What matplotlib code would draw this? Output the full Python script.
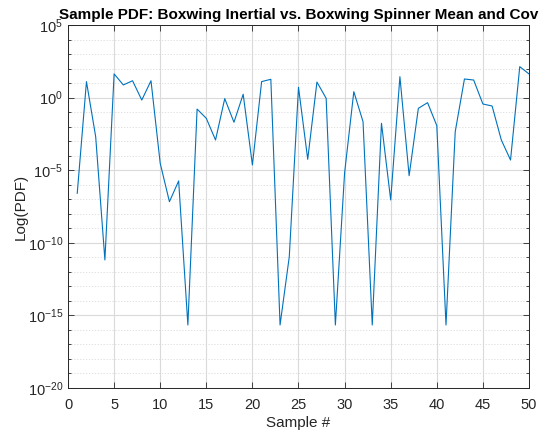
import numpy as np
import matplotlib
matplotlib.use("Agg")
import matplotlib.pyplot as plt
from matplotlib.ticker import FixedLocator, NullFormatter

plt.rcParams['font.family'] = ['Liberation Sans', 'DejaVu Sans']

samples = list(range(1, 51))
log_pdf = [-6.59, 1.10, -2.69, -11.18, 1.63, 0.87, 1.16, -0.17, 1.16, -4.53,
           -7.17, -5.74, -15.66, -0.79, -1.43, -2.92, -0.07, -1.70, 0.23, -4.64,
           1.10, 1.26, -15.66, -10.96, 0.71, -4.25, 1.07, -0.05, -15.66, -5.19,
           0.41, -1.66, -15.66, -1.77, -7.05, 1.44, -5.38, -0.74, -0.35, -1.93,
           -15.66, -2.35, 1.28, 1.21, -0.44, -0.58, -2.92, -4.30, 2.13, 1.63]
pdf = [10.0 ** v for v in log_pdf]

title = "Sample PDF: Boxwing Inertial vs. Boxwing Spinner Mean and Cov"
xlabel = "Sample #"
ylabel = "Log(PDF)"
xticks = [0, 5, 10, 15, 20, 25, 30, 35, 40, 45, 50]
yticks = [1e-20, 1e-15, 1e-10, 1e-5, 1e0, 1e5]

fig = plt.figure(figsize=(5.39, 4.36), dpi=100)
ax = fig.add_axes([0.1262, 0.1101, 0.8552, 0.8326])
ax.plot(samples, pdf, color='#0072BD', lw=0.8)
ax.set_yscale('log')
ax.set_xlim(0, 50)
ax.set_ylim(1e-20, 1e5)
ax.set_xticks(xticks)
ax.yaxis.set_major_locator(FixedLocator(yticks))
ax.yaxis.set_minor_locator(FixedLocator([10.0 ** k for k in range(-20, 6)]))
ax.yaxis.set_minor_formatter(NullFormatter())
ax.set_yticklabels([r'$\mathregular{10^{%d}}$' % int(np.log10(t)) for t in yticks])

ax.grid(True, which='major', color='#DADADA', lw=0.8, ls='-')
ax.grid(True, which='minor', axis='y', color='#DADADA', lw=0.6, ls=(0, (1.5, 2)))
ax.set_axisbelow(True)

ax.tick_params(which='both', direction='in', top=True, right=True, colors='#262626',
               labelsize=10.5, length=4, width=0.6)
ax.tick_params(which='minor', length=2.5)
ax.tick_params(axis='x', pad=7)
for s in ax.spines.values():
    s.set_color('#262626')
    s.set_linewidth(0.7)

ax.set_xlabel(xlabel, fontsize=11, color='#262626', labelpad=3)
ax.set_ylabel(ylabel, fontsize=11, color='#262626', labelpad=0)
ax.set_title(title, fontsize=11, fontweight='bold', color='#000000', pad=4)

fig.savefig('out.png', dpi=100)
